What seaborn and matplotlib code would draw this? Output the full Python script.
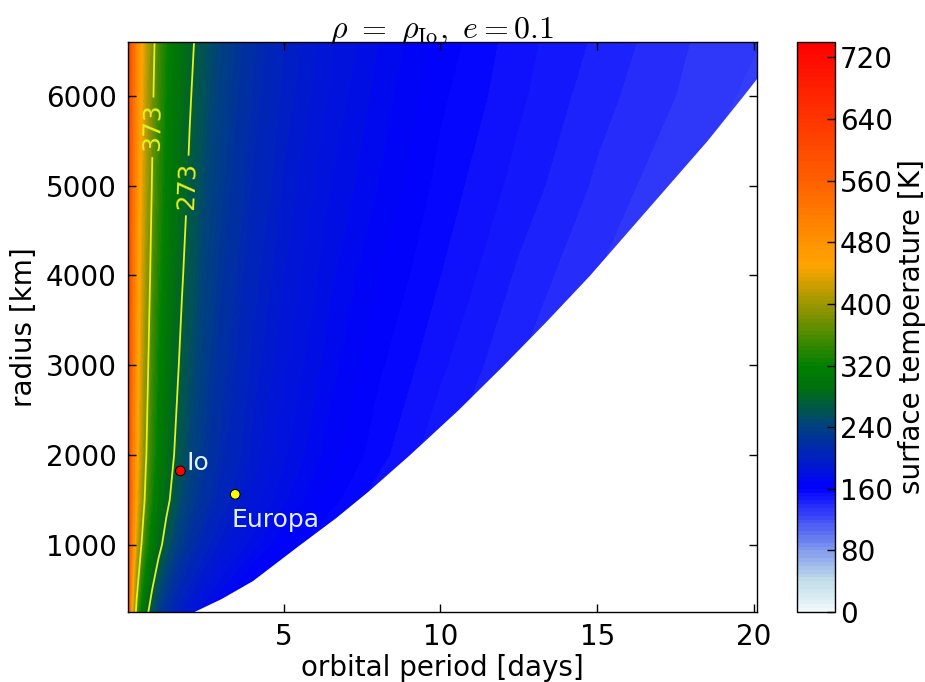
import numpy as np
import pandas as pd
import seaborn as sns
import matplotlib.pyplot as plt
from matplotlib.colors import LinearSegmentedColormap

# surface temperature [K], rows = radius, columns = period
period = [0.03, 0.15, 0.3, 0.45, 0.6, 0.8, 1.0, 1.25, 1.5, 1.75, 2.0, 2.5,
          3.0, 4.0, 5.0, 6.5, 8.0, 10.0, 12.5, 15.0, 17.5, 20.2]
radius = [250, 500, 1000, 1500, 2000, 3000, 4000, 5000, 6000, 6600]
temperature = [
    [591, 446, 362, 311, 284, 256, 235, 218, 204, 194, 187, 175, 166, 152, 141, 129, 120, 110, 100, 93, 86, 80],
    [596, 466, 384, 331, 301, 273, 251, 232, 217, 205, 197, 185, 175, 160, 150, 137, 127, 118, 108, 100, 94, 87],
    [604, 503, 424, 375, 337, 304, 283, 261, 244, 231, 220, 203, 192, 177, 165, 153, 143, 132, 122, 114, 108, 101],
    [609, 519, 448, 400, 363, 325, 302, 281, 263, 248, 236, 219, 205, 188, 176, 162, 152, 142, 131, 123, 116, 110],
    [611, 527, 459, 412, 376, 338, 312, 290, 273, 258, 245, 227, 212, 193, 181, 167, 157, 146, 136, 127, 121, 114],
    [613, 535, 469, 423, 387, 350, 321, 299, 282, 267, 254, 234, 219, 198, 186, 172, 161, 151, 140, 131, 125, 118],
    [615, 542, 478, 432, 398, 361, 332, 307, 290, 275, 262, 240, 226, 203, 190, 176, 165, 155, 144, 135, 128, 122],
    [617, 548, 487, 441, 407, 371, 341, 314, 297, 282, 269, 247, 232, 209, 194, 180, 170, 158, 148, 139, 131, 125],
    [619, 553, 495, 448, 415, 379, 350, 321, 303, 288, 275, 254, 237, 214, 198, 184, 173, 161, 151, 142, 135, 128],
    [620, 556, 499, 453, 420, 384, 355, 326, 307, 292, 279, 257, 240, 217, 200, 186, 175, 163, 152, 144, 136, 130],
]

# edge of the white (no solution) region
edge_radius = [250, 400, 600, 800, 1000, 1300, 1600, 2000, 2500, 3000, 3500,
               4000, 4500, 5000, 5500, 6000, 6200, 6600]
edge_period = [2.1, 3.0, 4.0, 4.75, 5.5, 6.65, 7.7, 9.0, 10.55, 12.0, 13.4,
               14.75, 16.0, 17.25, 18.5, 19.65, 20.1, 21.0]

moons = ['Io', 'Europa']
moon_period = [1.7, 3.45]
moon_radius = [1822, 1561]
moon_color = ['red', 'yellow']

sns.set_theme(style='ticks')
plt.rcParams['font.family'] = ['DejaVu Sans']
plt.rcParams['mathtext.fontset'] = 'cm'
plt.rcParams['axes.axisbelow'] = False

df = pd.DataFrame(temperature, index=radius, columns=period)

cmap = LinearSegmentedColormap.from_list('tsurf', [
    (0 / 740, '#f0f8fa'), (40 / 740, '#c0dce8'), (80 / 740, '#8099ee'),
    (160 / 740, '#0000ff'), (240 / 740, '#004080'), (290 / 740, '#00700f'),
    (320 / 740, '#008000'), (450 / 740, '#ffa500'),
    (560 / 740, '#ff6000'), (1.0, '#ff0000')])

fig = plt.figure(figsize=(9.25, 6.82), dpi=100)
ax = fig.add_axes([0.1384, 0.1026, 0.680, 0.8358])
cax = fig.add_axes([0.8616, 0.1026, 0.041, 0.8358])

cf = ax.contourf(df.columns, df.index, df.values, levels=np.arange(0, 745, 5),
                 cmap=cmap, vmin=0, vmax=740)
cs = ax.contour(df.columns, df.index, df.values, levels=[273, 373],
                colors='#e8f020', linewidths=1.3)
ax.clabel(cs, fmt='%d', fontsize=18, inline=True, inline_spacing=6,
          manual=[(2.05, 5000), (0.8, 5650)])

ax.fill_betweenx(edge_radius, edge_period, 25, color='white', zorder=2, lw=0)

sns.scatterplot(x=moon_period, y=moon_radius, hue=moons, palette=moon_color,
                s=48, edgecolor='black', linewidth=0.7, legend=False, ax=ax, zorder=4)
ax.text(1.9, 1910, 'Io', color='#e4f0ff', fontsize=18, va='center', zorder=5)
ax.text(3.34, 1270, 'Europa', color='#e4f0ff', fontsize=18, va='center', zorder=5)

ax.set_xlim(0.03, 20.1)
ax.set_ylim(250, 6600)
ax.set_xticks([5, 10, 15, 20])
ax.set_yticks([1000, 2000, 3000, 4000, 5000, 6000])
ax.set_axisbelow(False)
ax.tick_params(which='major', direction='in', top=True, right=True, length=6,
               width=1, color='black', labelcolor='black', labelsize=20, pad=8)
ax.set_xlabel('orbital period [days]', fontsize=20, labelpad=2, color='black')
ax.set_ylabel('radius [km]', fontsize=20, labelpad=6, color='black')
ax.set_title(r'$\rho\ =\ \rho_{\rm Io},\ e=0.1$', fontsize=23, pad=3, color='black')
for sp in ax.spines.values():
    sp.set_linewidth(1.0)
    sp.set_color('black')
    sp.set_zorder(6)

cbar = fig.colorbar(cf, cax=cax, ticks=range(0, 721, 80))
cax.set_axisbelow(False)
cbar.ax.tick_params(direction='in', length=6, width=1, color='black',
                    labelcolor='black', labelsize=20)
cbar.set_label('surface temperature [K]', fontsize=20, color='black')
cbar.outline.set_linewidth(1.0)
cbar.outline.set_edgecolor('black')

fig.savefig('out.png', dpi=100)
